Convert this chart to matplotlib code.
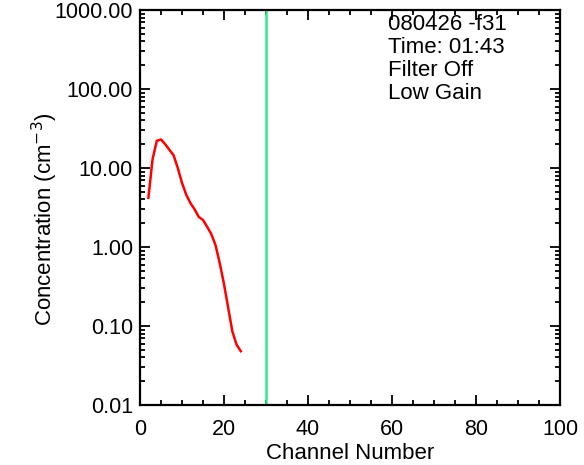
import matplotlib
matplotlib.use("Agg")
import matplotlib.pyplot as plt
from matplotlib.ticker import FixedLocator, MultipleLocator, LogLocator, NullFormatter

plt.rcParams['font.family'] = ['Liberation Sans', 'DejaVu Sans']

channels = [2, 3, 4, 5, 6, 7, 8, 9, 10, 11, 12, 13, 14, 15, 16, 17, 18, 19, 20, 21, 22, 23, 24]
concentration = [4.2, 13.0, 22.0, 23.0, 20.0, 17.0, 14.5, 10.0, 6.5, 4.6, 3.6, 3.0, 2.4, 2.2, 1.8,
                 1.45, 1.05, 0.62, 0.34, 0.17, 0.085, 0.058, 0.048]
marker_channel = 30
ytick_vals = [0.01, 0.1, 1, 10, 100, 1000]
ytick_labels = ["0.01", "0.10", "1.00", "10.00", "100.00", "1000.00"]
info_lines = ["080426 -f31", "Time: 01:43", "Filter Off", "Low Gain"]

fig = plt.figure(figsize=(5.84, 4.65), dpi=100)
ax = fig.add_axes([0.2397, 0.129, 0.7192, 0.8495])

ax.plot(channels, concentration, color='red', lw=1.8)
ax.axvline(marker_channel, color='#2ee88a', lw=1.8)

ax.set_yscale('log')
ax.set_xlim(0, 100)
ax.set_ylim(0.01, 1000)
ax.yaxis.set_major_locator(FixedLocator(ytick_vals))
ax.set_yticklabels(ytick_labels)
ax.yaxis.set_minor_locator(LogLocator(base=10, subs=range(2, 10)))
ax.yaxis.set_minor_formatter(NullFormatter())
ax.xaxis.set_major_locator(MultipleLocator(20))
ax.xaxis.set_minor_locator(MultipleLocator(5))

ax.tick_params(which='both', direction='in', top=True, right=True, width=1.3, labelsize=15.5)
ax.tick_params(which='major', length=7, pad=5)
ax.tick_params(which='minor', length=3.5)
ax.tick_params(axis='x', which='major', pad=10)
for s in ax.spines.values():
    s.set_linewidth(1.6)

ax.set_xlabel("Channel Number", fontsize=16, labelpad=2)
ax.set_ylabel("Concentration (cm$^{-3}$)", fontsize=16, labelpad=3)
ax.yaxis.set_label_coords(-0.19, 0.47)

ax.text(0.59, 0.99, "\n".join(info_lines), transform=ax.transAxes, ha='left', va='top',
        fontsize=16, linespacing=1.13)

fig.savefig("out.png", dpi=100)
